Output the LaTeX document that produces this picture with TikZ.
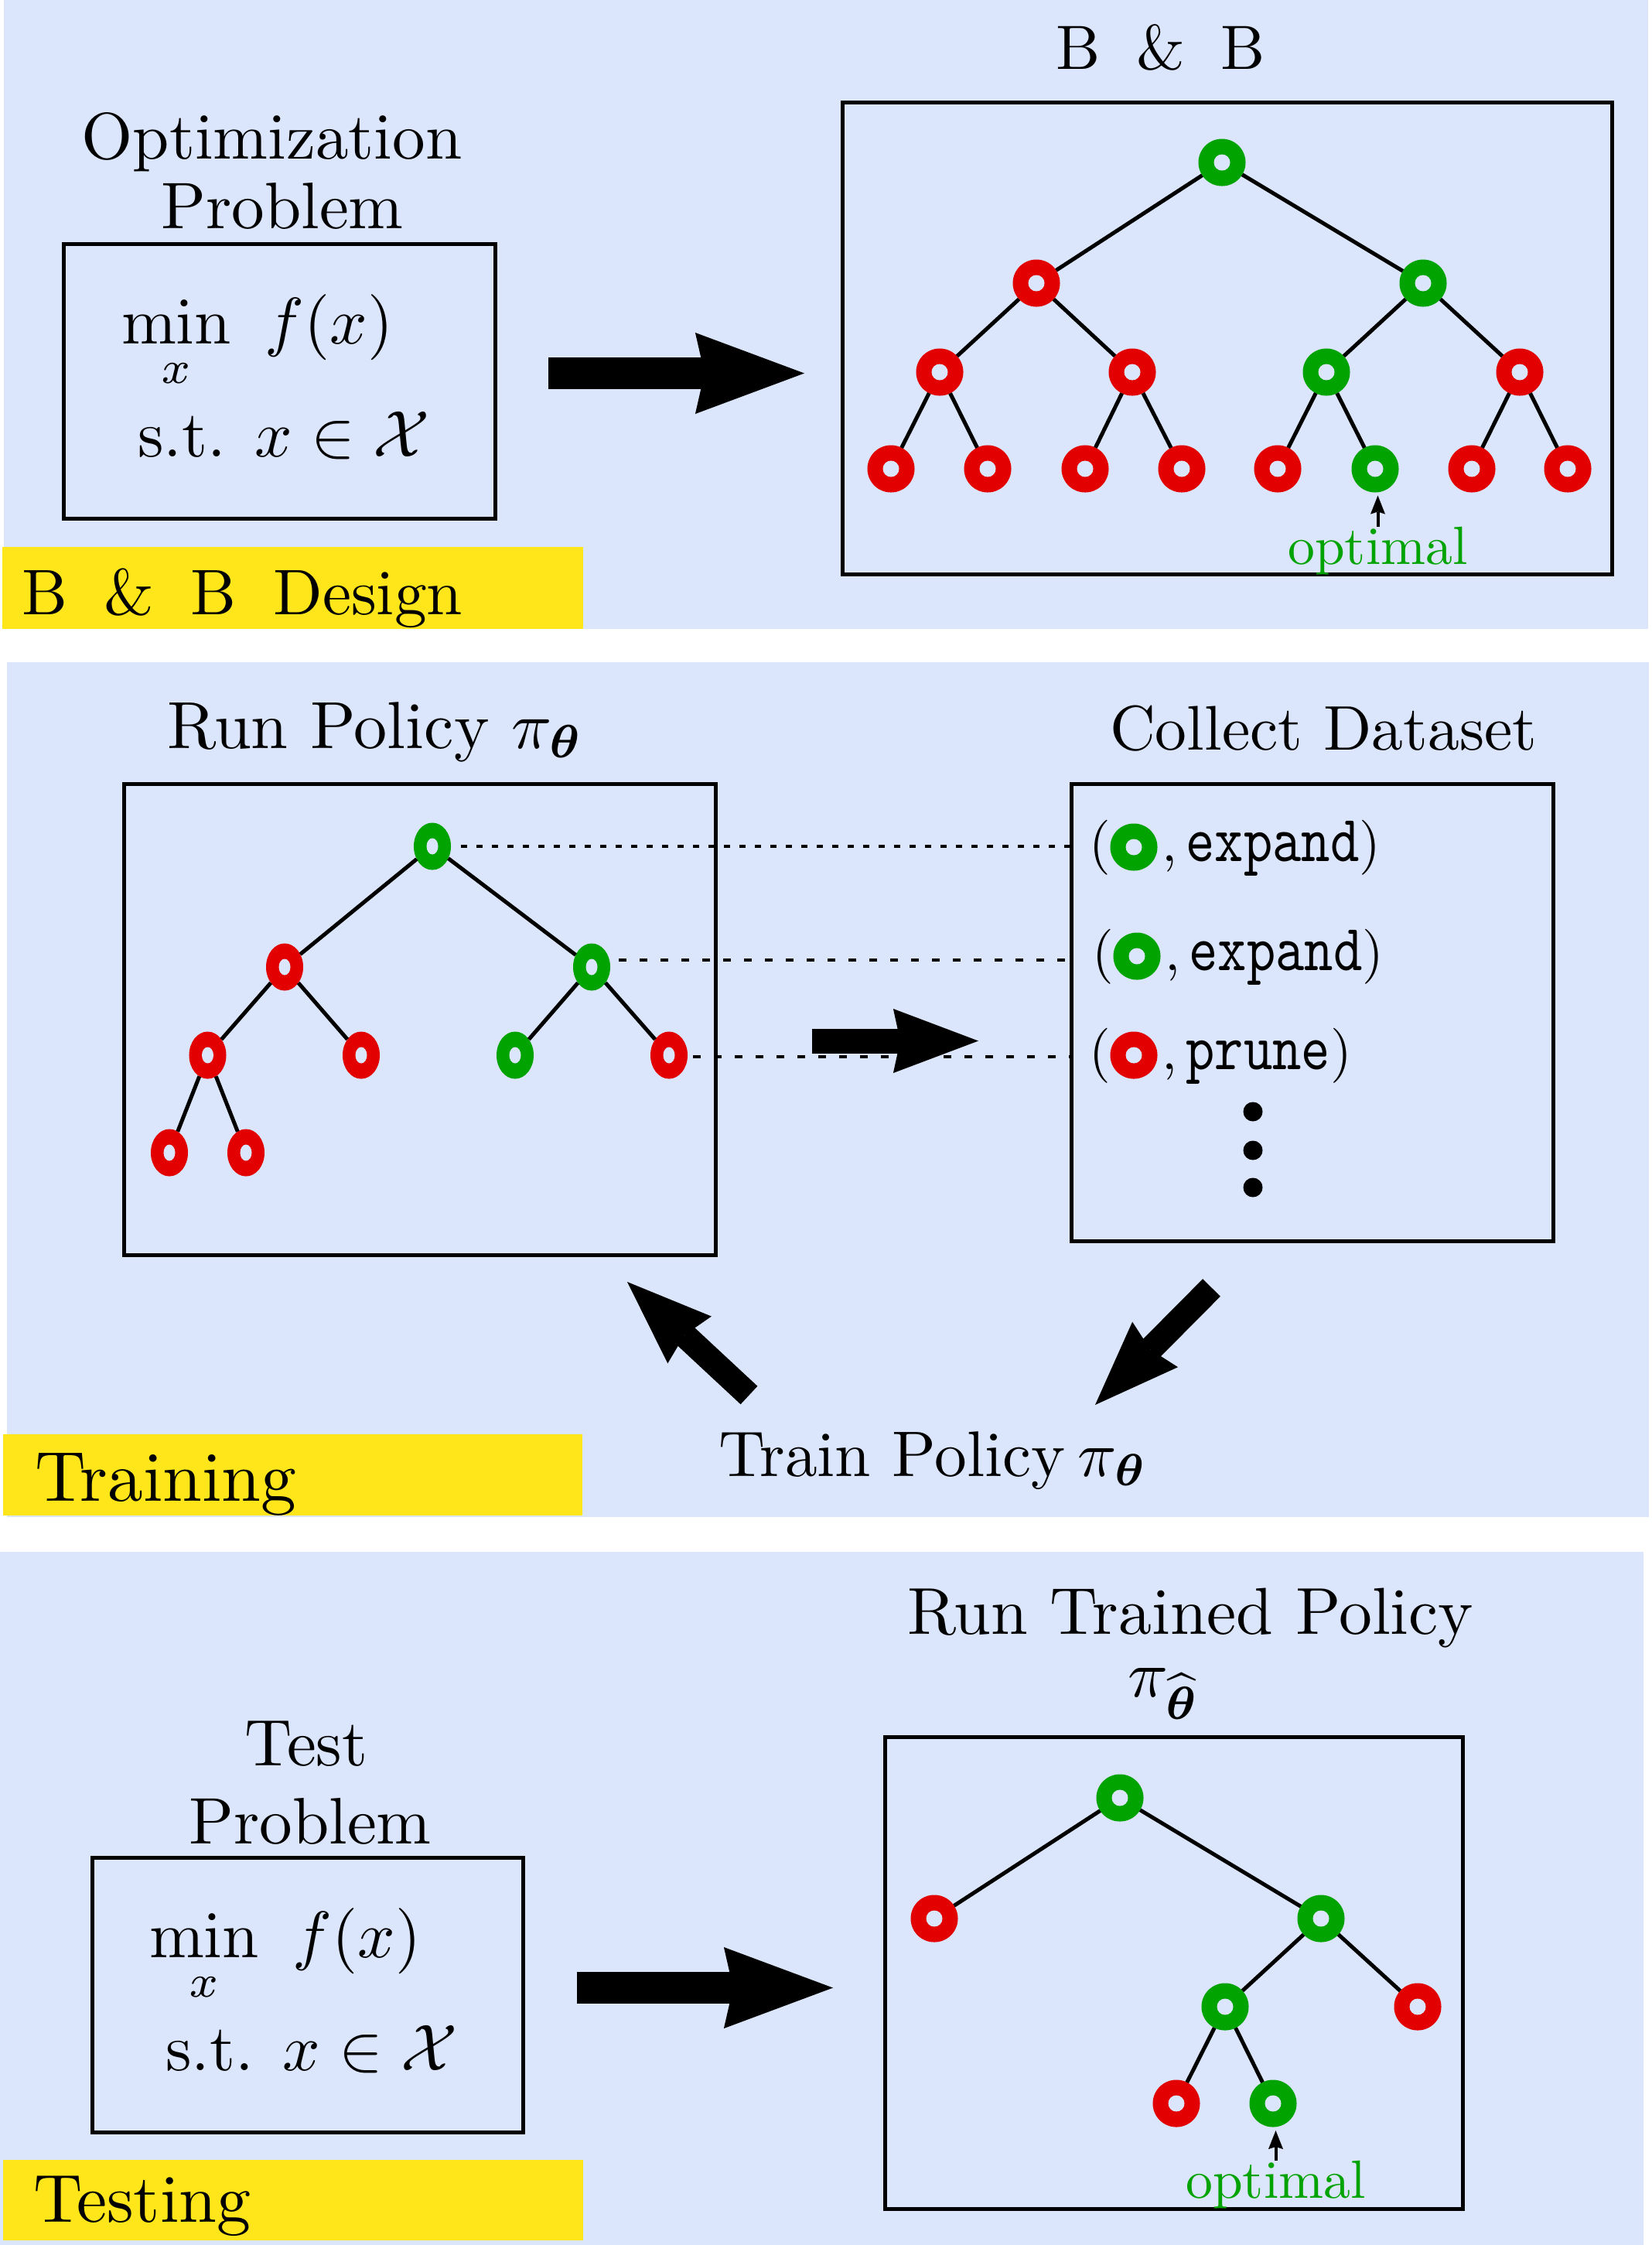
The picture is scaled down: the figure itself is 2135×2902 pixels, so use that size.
\documentclass[tikz,border=0pt]{standalone}
\usepackage{amsmath}
\usepackage{graphicx}
\usetikzlibrary{arrows.meta,shapes.geometric}
\definecolor{bgblue}{RGB}{219,229,251}
\definecolor{ngreen}{RGB}{0,163,0}
\definecolor{nred}{RGB}{226,0,0}
\definecolor{lblyellow}{RGB}{255,230,26}
\newcommand{\sbx}[2][2.42]{\scalebox{#1}{#2}}
\newcommand{\twolines}[3]{\vbox{\baselineskip=#1\lineskiplimit=-100pt\hbox{#2}\hbox{#3}}}
\begin{document}
\begin{tikzpicture}[x=0.01cm,y=-0.01cm,
  gnode/.style={circle, fill=ngreen, minimum size=0.61cm, inner sep=0pt, outer sep=0pt,
    path picture={\fill[bgblue] (path picture bounding box.center) circle[radius=0.105cm];}},
  rnode/.style={gnode, fill=nred},
  gell/.style={ellipse, fill=ngreen, minimum width=0.48cm, minimum height=0.61cm, inner sep=0pt, outer sep=0pt,
    path picture={\fill[bgblue] (path picture bounding box.center) ellipse[x radius=0.075cm, y radius=0.105cm];}},
  rell/.style={gell, fill=nred},
  treeline/.style={line width=0.05cm},
  box/.style={draw, rectangle, line width=0.05cm, inner sep=0pt},
  txt/.style={inner sep=0pt, outer sep=0pt, font=\normalsize},
  bigarr/.style={line width=0.41cm, -{Stealth[length=1.41cm, width=1.05cm, inset=0.12cm, line width=0pt]}},
  midarr/.style={line width=0.32cm, -{Stealth[length=1.1cm, width=0.83cm, inset=0.09cm, line width=0pt]}},
  optarr/.style={line width=0.04cm, -{Stealth[length=0.24cm, width=0.19cm, inset=0.03cm, line width=0pt]}},
  dotl/.style={line width=0.045cm, dash pattern=on 0.08cm off 0.12cm},
  dashl/.style={line width=0.045cm, dash pattern=on 0.10cm off 0.17cm},
  optlabel/.style={txt, text=ngreen}
]
% canvas and panels
\fill[white] (0,0) rectangle (2135,2902);
\useasboundingbox (0,0) rectangle (2135,2902);
\fill[bgblue] (5,0) rectangle (2131,813);
\fill[bgblue] (9,856) rectangle (2132,1961);
\fill[bgblue] (0,2006) rectangle (2125,2902);
\fill[lblyellow] (3,707) rectangle (754,813);
\fill[lblyellow] (4,1854) rectangle (753,1959);
\fill[lblyellow] (4,2792) rectangle (754,2896);

% panel labels
\node[txt, anchor=base west] (lab1) at (28,794) {\sbx[2.37]{B\hspace{0.57em}\&\hspace{0.57em}B\hspace{0.57em}Design}};
\node[txt, anchor=base west] (lab2) at (45,1940) {\sbx[2.6]{Training}};
\node[txt, anchor=base west] (lab3) at (43,2872) {\sbx[2.5]{Testing}};

% ---------- panel 1 ----------
\node[txt, anchor=base] (t1a) at (351.5,205) {\sbx{Optimization}};
\node[txt, anchor=base] (t1b) at (365,295) {\sbx{Problem}};
\node[box, minimum width=5.58cm, minimum height=3.55cm] (pb1) at (361.5,493) {};
\node[txt, anchor=base west] (m1) at (157,590) {\sbx{\twolines{17.05pt}{$\displaystyle\min_{x}\hspace{0.35em} f(x)$}{\hspace{0.247em}s.t. $x\in\mathcal{X}$}}};

\node[txt, anchor=base] (bbt) at (1500.5,89) {\sbx[2.3]{B\hspace{0.57em}\&\hspace{0.57em}B}};
\node[box, minimum width=9.95cm, minimum height=6.10cm] (tb1) at (1587,437.5) {};

\coordinate (ar1s) at (709,482.5);
\coordinate (ar1e) at (1040,482.5);
\draw[bigarr] (ar1s) -- (ar1e);

\node[gnode] (a0) at (1580,210) {};
\node[rnode] (a1) at (1340,366) {};
\node[gnode] (a2) at (1840,366) {};
\node[rnode] (a3) at (1215,481) {};
\node[rnode] (a4) at (1464,481) {};
\node[gnode] (a5) at (1715,481) {};
\node[rnode] (a6) at (1965,481) {};
\node[rnode] (a7) at (1152,606) {};
\node[rnode] (a8) at (1277,606) {};
\node[rnode] (a9) at (1403,606) {};
\node[rnode] (a10) at (1528,606) {};
\node[rnode] (a11) at (1652,606) {};
\node[gnode] (a12) at (1778,606) {};
\node[rnode] (a13) at (1903,606) {};
\node[rnode] (a14) at (2027,606) {};
\draw[treeline] (a0) -- (a1) (a0) -- (a2)
  (a1) -- (a3) (a1) -- (a4) (a2) -- (a5) (a2) -- (a6)
  (a3) -- (a7) (a3) -- (a8) (a4) -- (a9) (a4) -- (a10)
  (a5) -- (a11) (a5) -- (a12) (a6) -- (a13) (a6) -- (a14);
\node[optlabel, anchor=base] (o1) at (1781.5,729) {\sbx[1.98]{optimal}};
\draw[optarr] (o1.north) -- ([yshift=-0.04cm]o1.north |- a12.south);

% ---------- panel 2 ----------
\node[txt, anchor=base west] (rp) at (216,967) {\sbx[2.45]{Run Policy $\pi_{\boldsymbol{\theta}}$}};
\node[txt, anchor=base west] (cd) at (1435,969) {\sbx[2.32]{Collect Dataset}};
\node[box, minimum width=7.65cm, minimum height=6.09cm] (rb) at (543,1318) {};
\node[box, minimum width=6.23cm, minimum height=5.91cm] (ds) at (1697,1309) {};

\node[gell] (b0) at (559,1094) {};
\node[rell] (b1) at (368,1250) {};
\node[gell] (b2) at (765,1250) {};
\node[rell] (b3) at (268.5,1364) {};
\node[rell] (b4) at (467,1364) {};
\node[gell] (b5) at (666,1364) {};
\node[rell] (b6) at (865,1364) {};
\node[rell] (b7) at (219,1490) {};
\node[rell] (b8) at (318,1490) {};
\draw[treeline] (b0) -- (b1) (b0) -- (b2)
  (b1) -- (b3) (b1) -- (b4) (b2) -- (b5) (b2) -- (b6)
  (b3) -- (b7) (b3) -- (b8);

\draw[dotl] ([xshift=0.13cm]b0.east) -- (b0.east -| ds.west);
\draw[dashl] ([xshift=0.11cm,yshift=0.09cm]b2.east) -- ([yshift=0.09cm]b2.east -| ds.west);
\draw[dashl] ([xshift=0.07cm,yshift=-0.02cm]b6.east) -- ([yshift=-0.02cm]b6.east -| ds.west);

% dataset rows
\node[gnode] (d1) at (1466,1095) {};
\node[txt, anchor=base east] (d1l) at (1436,1113) {\sbx[2.02]{(}};
\node[txt, anchor=base west] (d1r) at (1502,1113) {\sbx[2.02]{,\,\scalebox{1}[1.2]{\ttfamily expand})}};
\node[gnode] (d2) at (1470,1236) {};
\node[txt, anchor=base east] (d2l) at (1440,1254) {\sbx[2.02]{(}};
\node[txt, anchor=base west] (d2r) at (1506,1254) {\sbx[2.02]{,\,\scalebox{1}[1.2]{\ttfamily expand})}};
\node[rnode] (d3) at (1466,1364) {};
\node[txt, anchor=base east] (d3l) at (1436,1382) {\sbx[2.02]{(}};
\node[txt, anchor=base west] (d3r) at (1502,1382) {\sbx[2.02]{,\,\scalebox{1}[1.2]{\ttfamily prune})}};
\fill (1620,1437) circle[radius=0.125cm];
\fill (1620,1487) circle[radius=0.125cm];
\fill (1620,1535) circle[radius=0.125cm];

\coordinate (ar2s) at (1050,1345.5);
\coordinate (ar2e) at (1265,1345.5);
\draw[midarr] (ar2s) -- (ar2e);
\coordinate (ar3s) at (968.5,1803.5);
\coordinate (ar3e) at (811,1657);
\draw[midarr] (ar3s) -- (ar3e);
\coordinate (ar4s) at (1566.5,1664.5);
\coordinate (ar4e) at (1416,1816);
\draw[midarr] (ar4s) -- (ar4e);

\node[txt, anchor=base west] (tp) at (929,1908) {\sbx[2.37]{Train Policy\hspace{0.2em}$\pi_{\boldsymbol{\theta}}$}};

% ---------- panel 3 ----------
\node[txt, anchor=base] (t3a) at (396,2282) {\sbx{Test}};
\node[txt, anchor=base] (t3b) at (401,2383) {\sbx{Problem}};
\node[box, minimum width=5.57cm, minimum height=3.55cm] (pb3) at (398,2579) {};
\node[txt, anchor=base west] (m3) at (193,2676) {\sbx{\twolines{17.05pt}{$\displaystyle\min_{x}\hspace{0.35em} f(x)$}{\hspace{0.247em}s.t. $x\in\mathcal{X}$}}};

\coordinate (ar5s) at (746,2569.5);
\coordinate (ar5e) at (1077,2569.5);
\draw[bigarr] (ar5s) -- (ar5e);

\node[txt, anchor=base west] (rtp) at (1173,2193) {\sbx[2.44]{\twolines{9.44pt}{Run Trained Policy}{\hspace{3.33em}$\pi_{\widehat{\boldsymbol{\theta}}}$}}};
\node[box, minimum width=7.47cm, minimum height=6.10cm] (tb3) at (1518,2550.5) {};

\node[gnode] (c0) at (1448,2324) {};
\node[rnode] (c1) at (1208,2480) {};
\node[gnode] (c2) at (1708,2480) {};
\node[gnode] (c3) at (1584,2594) {};
\node[rnode] (c4) at (1833,2594) {};
\node[rnode] (c5) at (1521,2719) {};
\node[gnode] (c6) at (1646,2719) {};
\draw[treeline] (c0) -- (c1) (c0) -- (c2)
  (c2) -- (c3) (c2) -- (c4) (c3) -- (c5) (c3) -- (c6);
\node[optlabel, anchor=base] (o3) at (1649.5,2841) {\sbx[1.98]{optimal}};
\draw[optarr] (o3.north) -- ([yshift=-0.045cm]o3.north |- c6.south);
\end{tikzpicture}
\end{document}
